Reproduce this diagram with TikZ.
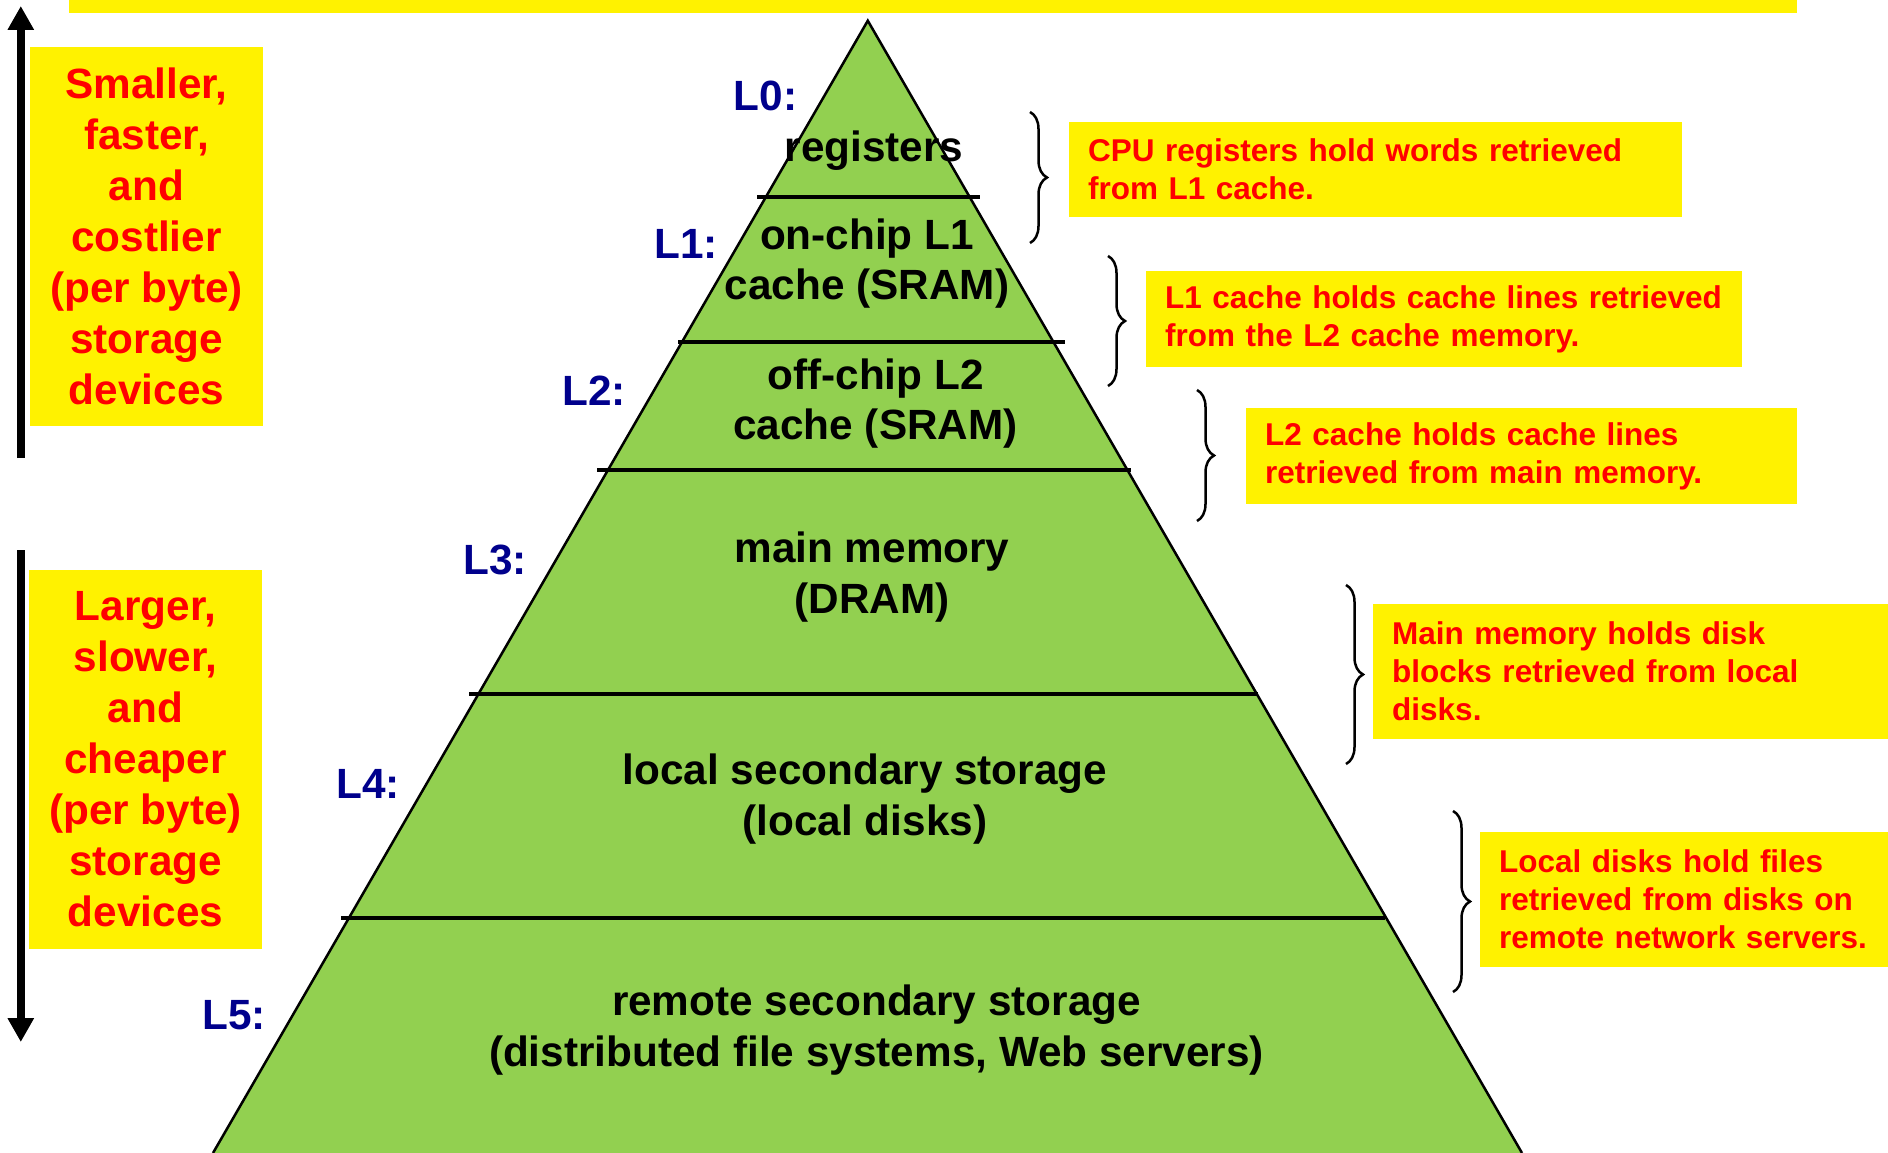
\documentclass[tikz,border=0pt]{standalone}
\usepackage{fontspec}
\setmainfont{Liberation Sans}
\usepackage{tikz}
\usetikzlibrary{arrows.meta}
\usetikzlibrary{decorations,decorations.pathreplacing}
\usepackage{xcolor}
\definecolor{memgreen}{RGB}{146,208,80}
\definecolor{lvlblue}{RGB}{0,0,140}
\tikzstyle{tier}=[font=\bfseries\fontsize{42.3}{50.5}\selectfont, align=center, inner sep=0pt]
\tikzstyle{lvl}=[font=\bfseries\fontsize{42.3}{50.5}\selectfont, text=lvlblue, inner sep=0pt]
\tikzstyle{sidebox}=[fill=yellow, text=red, font=\bfseries\fontsize{42.3}{51}\selectfont, align=center, minimum width=233pt, minimum height=379pt, inner sep=0pt]
\tikzstyle{notebox}=[fill=yellow, text=red, font=\bfseries\fontsize{31.5}{38}\selectfont, align=left, inner xsep=19pt, inner ysep=0pt, anchor=north west]
\tikzstyle{sep}=[line width=3.5pt]
\tikzstyle{brc}=[decorate, decoration={brace, amplitude=17pt}, line width=2.5pt]
\tikzstyle{bigarrow}=[line width=8pt, -{Triangle[width=25pt,length=24pt]}]

\begin{document}
\begin{tikzpicture}[x=1pt,y=-1pt]
\useasboundingbox (0,0) rectangle (1888,1153);
\fill[yellow] (69,0) rectangle (1797,12.7);
% pyramid
\coordinate (apex) at (867.8,20.7);
\coordinate (bl) at (213,1153);
\coordinate (br) at (1522,1153);
\fill[memgreen] (apex) -- (bl) -- (br) -- cycle;
\draw[line width=2.5pt, line join=miter] (bl) -- (apex) -- (br);
\draw[sep] (757,197) -- (980,197);
\draw[sep] (678,342) -- (1065,342);
\draw[sep] (597,470) -- (1131,470);
\draw[sep] (469,694) -- (1258,694);
\draw[sep] (341,918) -- (1385,918);
\node[tier] (reg) at (874,151) {registers};
\node[tier] (l1c) at (867,263.5) {on-chip L1\\cache (SRAM)};
\node[tier] (l2c) at (875.5,403.5) {off-chip L2\\cache (SRAM)};
\node[tier] (dram) at (872,577) {main memory\\(DRAM)};
\node[tier] (disk) at (865,799) {local secondary storage\\(local disks)};
\node[tier] (remote) at (876.5,1030) {remote secondary storage\\(distributed file systems, Web servers)};
\node[lvl] (L0) at (765.5,95.5) {L0:};
\node[lvl] (L1) at (686,244) {L1:};
\node[lvl] (L2) at (594,391) {L2:};
\node[lvl] (L3) at (495,560) {L3:};
\node[lvl] (L4) at (368,784) {L4:};
\node[lvl] (L5) at (234,1015) {L5:};
% left side
\draw[bigarrow] (20.8,458) -- (20.8,6);
\draw[bigarrow] (20.8,550) -- (20.8,1042);
\node[sidebox] (fast) at (146.5,236.5) {Smaller,\\faster,\\and\\costlier\\(per byte)\\storage\\devices};
\node[sidebox] (slow) at (145.5,759.5) {Larger,\\slower,\\and\\cheaper\\(per byte)\\storage\\devices};
% right side
\draw[brc] (1030,112) -- (1030,243);
\draw[brc] (1108,256) -- (1108,386);
\draw[brc] (1197,390) -- (1197,521);
\draw[brc] (1346,585) -- (1346,764);
\draw[brc] (1453,811) -- (1453,992);
\node[notebox, text width=575pt, minimum height=95pt] (n0) at (1069,122) {CPU registers hold words retrieved\\from L1 cache.};
\node[notebox, text width=558pt, minimum height=96pt] (n1) at (1146,271) {L1 cache holds cache lines retrieved\\from the L2 cache memory.};
\node[notebox, text width=513pt, minimum height=96pt] (n2) at (1246,408) {L2 cache holds cache lines\\retrieved from main memory.};
\node[notebox, text width=477pt, minimum height=135pt] (n3) at (1373,604) {Main memory holds disk\\blocks retrieved from local\\disks.};
\node[notebox, text width=370pt, minimum height=135pt] (n4) at (1480,832) {Local disks hold files\\retrieved from disks on\\remote network servers.};
\end{tikzpicture}
\end{document}
